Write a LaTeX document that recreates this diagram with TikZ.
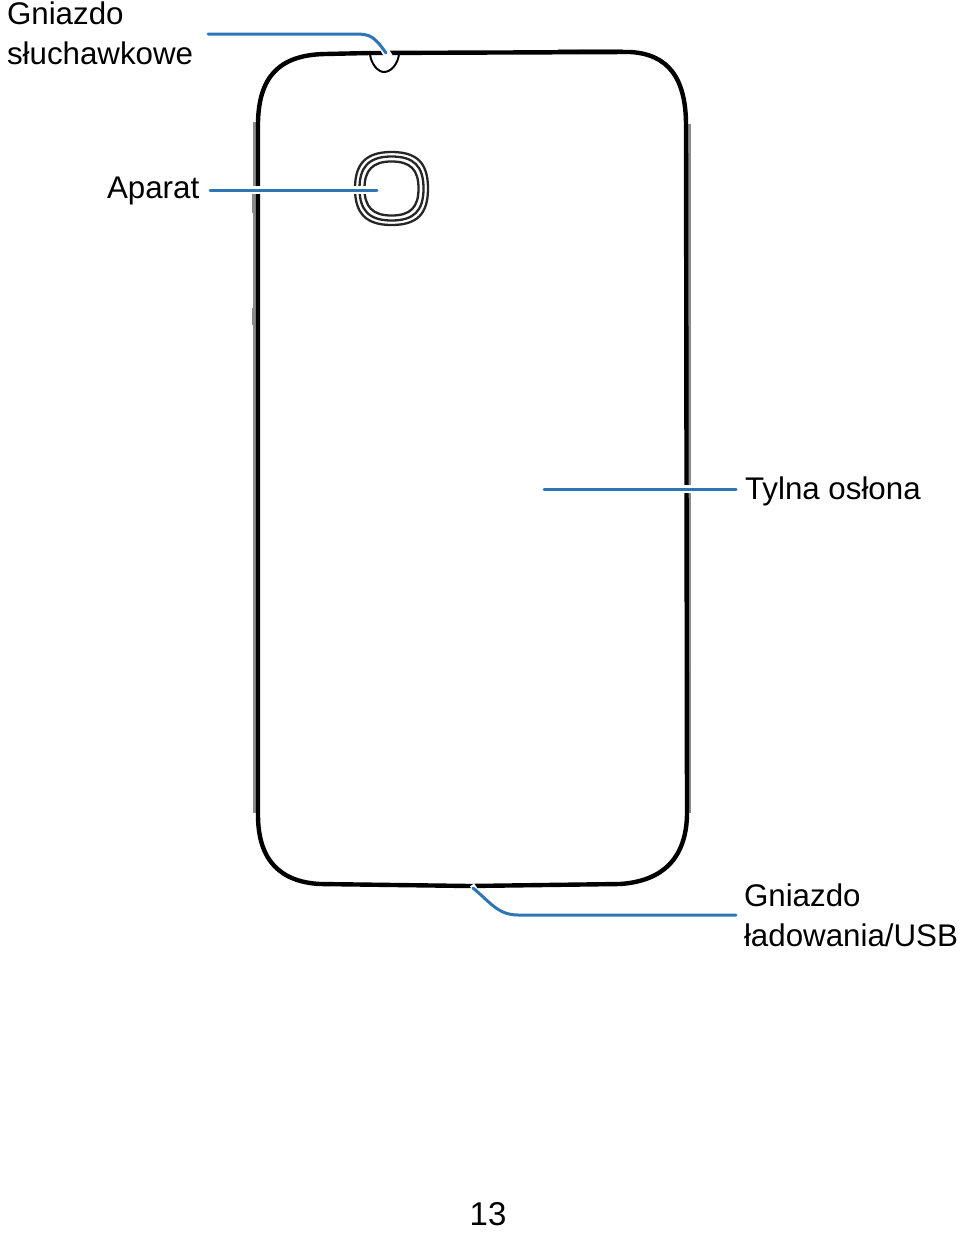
\documentclass[tikz,border=0pt]{standalone}
\usepackage{fontspec}
\usetikzlibrary{calc}
\setmainfont{Liberation Sans}
\definecolor{leader}{HTML}{2E75B6}
\definecolor{sideedge}{HTML}{8A8A8A}
\tikzset{
  x=1pt, y=-1pt,
  label text/.style={font=\fontsize{31.3}{40}\selectfont, inner sep=0pt, outer sep=0pt, align=left},
  shell/.style={draw=black, line width=4.4pt, line join=round, line cap=round},
  button edge/.style={draw=sideedge, line width=3pt},
  thin edge/.style={draw=sideedge, line width=2.2pt},
  lens ring/.style={draw=black!85, line width=2.3pt},
  leader halo/.style={draw=white, line width=8pt},
  leader line/.style={draw=leader, line width=3pt, line cap=round},
}
% Squircle outline for the camera rings: centre, half width, half height
\newcommand{\lensring}[3]{%
  \draw[lens ring] ($(#1)+(-#2,0)$)
    .. controls ($(#1)+(-#2,-0.68*#3)$) and ($(#1)+(-0.7*#2,-#3)$) .. ($(#1)+(0,-#3)$)
    .. controls ($(#1)+(0.7*#2,-#3)$) and ($(#1)+(#2,-0.7*#3)$) .. ($(#1)+(#2,0)$)
    .. controls ($(#1)+(#2,0.7*#3)$) and ($(#1)+(0.7*#2,#3)$) .. ($(#1)+(0,#3)$)
    .. controls ($(#1)+(-0.7*#2,#3)$) and ($(#1)+(-#2,0.68*#3)$) .. cycle;}
\begin{document}
\begin{tikzpicture}
\useasboundingbox (0,0) rectangle (960,1234);

% Side keys and edge highlights behind the housing
\draw[button edge] (558,50) -- (623,50);
\draw[button edge] (689.5,124) -- (689.5,813);
\draw[thin edge] (254.5,122) -- (254.5,813);
\draw[button edge] (253,190) -- (253,213);
\draw[button edge] (253,308) -- (253,325);

% Phone housing
\draw[shell] (258,300)
  -- (258,122)
  .. controls (259,78) and (278,55) .. (325,54)
  -- (370,53) -- (630,52)
  .. controls (668,54) and (686,78) .. (686,125)
  -- (687,815)
  .. controls (686,856) and (665,881) .. (620,884)
  -- (470,886) -- (320,884)
  .. controls (282,882) and (258,862) .. (258,815)
  -- cycle;

% Earpiece notch
\draw[draw=black, line width=2pt] (370,54) .. controls (371,64) and (378,72) .. (384,72)
  .. controls (391,72) and (398,64) .. (399,54);

% Camera rings
\coordinate (lens) at (391.5,188.5);
\lensring{lens}{36.5}{36.5}
\lensring{lens}{32}{32}
\lensring{lens}{27}{27}

% Labels
\node[label text, anchor=west] (earlabel) at (7,33) {Gniazdo\\słuchawkowe};
\node[label text, anchor=west] (cameralabel) at (107,191) {Aparat};
\node[label text, anchor=west] (coverlabel) at (745,491) {Tylna osłona};
\node[label text, anchor=west] (usblabel) at (744,915) {Gniazdo\\ładowania/USB};
\node[font=\fontsize{33}{40}\selectfont, inner sep=0pt] (pagenumber) at (488,1214) {13};

% Leader end points on the device
\coordinate (earjack) at (386,53);
\coordinate (camera) at (377,190);
\coordinate (cover) at (544,489);
\coordinate (usbjack) at (473,888);

% Leaders, each with a white edge where it crosses the outline
\path[leader halo] ($(earjack)+(-3,-6)$) -- ($(earjack)+(3,4)$);
\path[leader halo] ([xshift=11pt]cameralabel.east |- camera) -- (camera);
\path[leader halo] ([xshift=-9pt]coverlabel.west |- cover) -- (cover);
\path[draw=white, line width=5pt] ($(usbjack)+(-1,-3)$) -- ($(usbjack)+(2,1)$);
\draw[leader line] ([xshift=15pt]earlabel.east |- 0,34) -- (355,34) .. controls (370,34) and (374,36) .. (earjack);
\draw[leader line] ([xshift=11pt]cameralabel.east |- camera) -- (camera);
\draw[leader line] ([xshift=-9pt]coverlabel.west |- cover) -- (cover);
\draw[leader line] ([xshift=-8pt]usblabel.west) -- (518,915) .. controls (498,915) and (490,902) .. (usbjack);
\end{tikzpicture}
\end{document}
